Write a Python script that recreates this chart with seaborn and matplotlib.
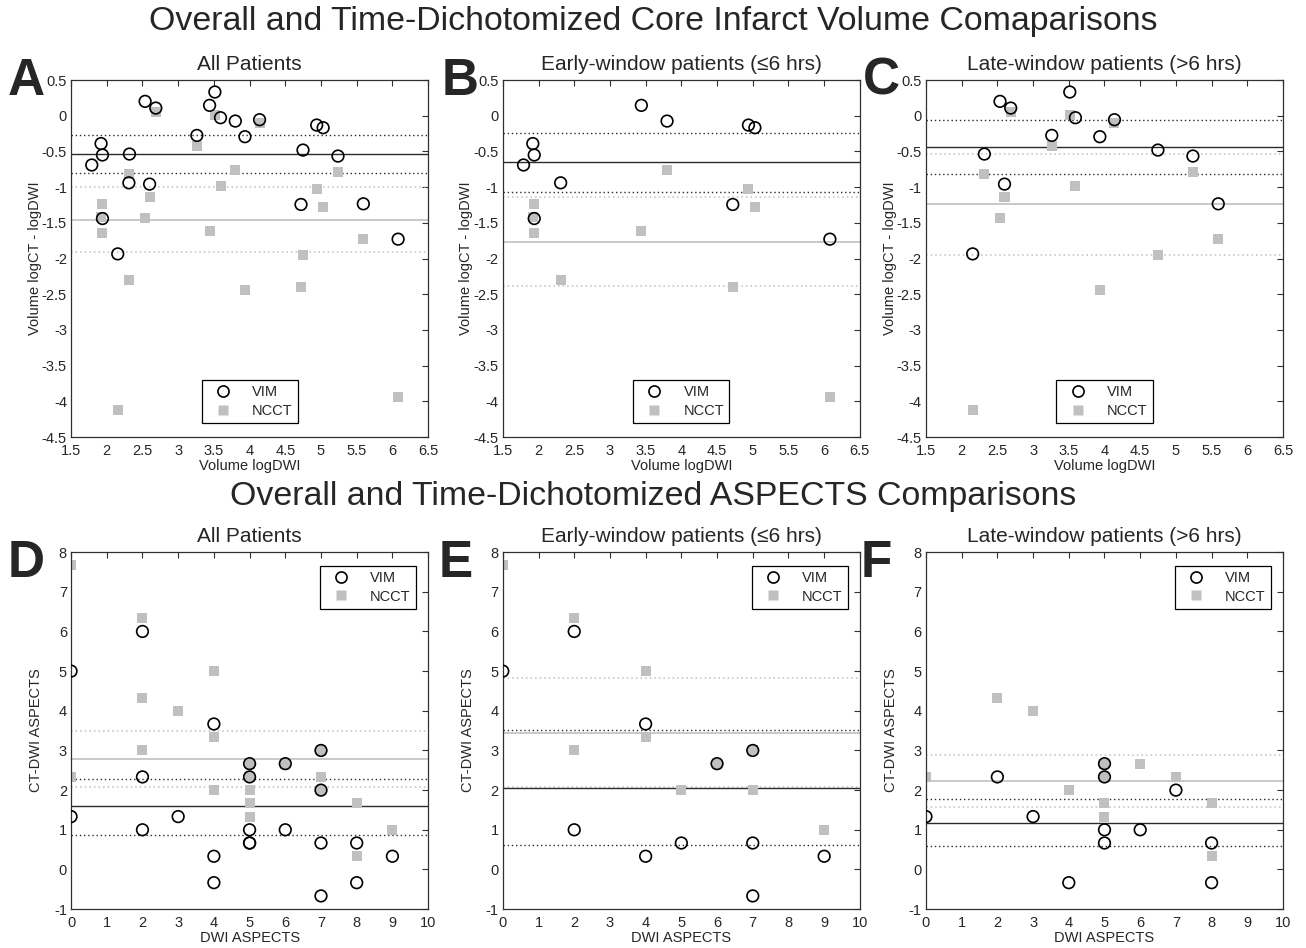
import matplotlib
matplotlib.use("Agg")
import matplotlib.pyplot as plt
from matplotlib.lines import Line2D
from matplotlib.ticker import FuncFormatter, MultipleLocator
import seaborn as sns

# ---- core infarct volume, early window (<=6 hrs)
early_vol_vim_x = [1.79, 1.92, 1.94, 1.94, 2.31, 3.44, 3.80, 4.72, 4.94, 5.03, 6.08]
early_vol_vim_y = [-0.69, -0.39, -0.55, -1.44, -0.94, 0.145, -0.075, -1.243, -0.131, -0.168, -1.729]
early_vol_ncct_x = [1.94, 1.92, 1.94, 2.31, 3.44, 3.80, 4.94, 5.03, 4.72, 6.08]
early_vol_ncct_y = [-1.243, -1.416, -1.645, -2.30, -1.621, -0.757, -1.028, -1.28, -2.40, -3.94]

# ---- core infarct volume, late window (>6 hrs)
late_vol_vim_x = [2.154, 2.318, 2.537, 2.60, 2.687, 3.262, 3.514, 3.593, 3.935, 4.140, 4.748, 5.238, 5.593]
late_vol_vim_y = [-1.935, -0.537, 0.201, -0.958, 0.107, -0.276, 0.332, -0.028, -0.294, -0.056, -0.481, -0.565, -1.234]
late_vol_ncct_x = [2.318, 2.60, 2.537, 2.687, 3.262, 3.514, 3.593, 4.140, 4.748, 5.238, 5.593, 3.935, 2.154]
late_vol_ncct_y = [-0.818, -1.140, -1.439, 0.051, -0.425, 0.014, -0.986, -0.098, -1.944, -0.794, -1.72, -2.44, -4.12]

# ---- ASPECTS, early window
early_asp_vim_x = [0, 2, 2, 4, 4, 5, 6, 7, 7, 7, 9]
early_asp_vim_y = [5, 6, 1, 3.667, 0.333, 0.667, 2.667, 3, 0.667, -0.667, 0.333]
early_asp_ncct_x = [0, 2, 2, 4, 4, 5, 6, 7, 7, 9]
early_asp_ncct_y = [7.667, 6.333, 3, 5, 3.333, 2, 2.667, 3, 2, 1]

# ---- ASPECTS, late window
late_asp_vim_x = [0, 2, 3, 4, 5, 5, 5, 5, 6, 7, 8, 8]
late_asp_vim_y = [1.333, 2.333, 1.333, -0.333, 2.667, 2.333, 1, 0.667, 1, 2, 0.667, -0.333]
late_asp_ncct_x = [0, 2, 3, 4, 5, 5, 5, 5, 6, 7, 8, 8]
late_asp_ncct_y = [2.333, 4.333, 4, 2, 2.667, 2.333, 1.667, 1.333, 2.667, 2.333, 1.667, 0.333]

# mean line and the two dotted limits: (vim mean, vim hi, vim lo, ncct mean, ncct hi, ncct lo)
stats_A = [-0.542, -0.276, -0.799, -1.458, -0.999, -1.915]
stats_B = [-0.654, -0.243, -1.07, -1.766, -1.14, -2.383]
stats_C = [-0.435, -0.061, -0.822, -1.238, -0.537, -1.944]
stats_D = [1.59, 2.27, 0.88, 2.79, 3.50, 2.076]
stats_E = [2.06, 3.51, 0.613, 3.45, 4.82, 2.075]
stats_F = [1.176, 1.765, 0.58, 2.227, 2.89, 1.57]

panel_titles = ["All Patients", "Early-window patients (\u22646 hrs)", "Late-window patients (>6 hrs)"]

sns.set_style("white")
plt.rcParams["font.family"] = ["Liberation Sans", "DejaVu Sans"]
plt.rcParams["axes.unicode_minus"] = False

GRAY = "#c0c0c0"
DARK = "#2b2b2b"
DOTS = (0, (1, 2))

fig = plt.figure(figsize=(13.06, 9.48), dpi=100)

lefts = [0.0544, 0.385, 0.709]
w, h = 0.2734, 0.3766
top_axes = [fig.add_axes([l, 0.539, w, h]) for l in lefts]
bot_axes = [fig.add_axes([l, 0.041, w, h]) for l in lefts]


def draw_panel(ax, vx, vy, nx, ny, stats):
    vm, vhi, vlo, nm, nhi, nlo = stats
    ax.axhline(nm, color=GRAY, lw=1.2, zorder=1)
    ax.axhline(nhi, color=GRAY, lw=1.1, ls=DOTS, zorder=1)
    ax.axhline(nlo, color=GRAY, lw=1.1, ls=DOTS, zorder=1)
    ax.axhline(vm, color=DARK, lw=1.0, zorder=1)
    ax.axhline(vhi, color=DARK, lw=1.0, ls=DOTS, zorder=1)
    ax.axhline(vlo, color=DARK, lw=1.0, ls=DOTS, zorder=1)
    sns.scatterplot(x=nx, y=ny, ax=ax, marker="s", s=52, color=GRAY,
                    edgecolor="none", linewidth=0, zorder=2)
    sns.scatterplot(x=vx, y=vy, ax=ax, marker="o", s=70, facecolor="none",
                    edgecolor="black", linewidth=1.2, zorder=3)


def style_axes(ax):
    for sp in ax.spines.values():
        sp.set_color("#303030")
        sp.set_linewidth(0.9)
    ax.tick_params(direction="in", top=True, right=True, length=4,
                   labelsize=10.5, color="#303030", pad=3)
    ax.tick_params(axis="x", pad=5)
    ax.yaxis.set_major_formatter(FuncFormatter(lambda v, _: f"{v:g}"))
    ax.xaxis.set_major_formatter(FuncFormatter(lambda v, _: f"{v:g}"))


handles = [
    Line2D([], [], ls="none", marker="o", ms=8, mfc="none", mec="black", mew=1.2),
    Line2D([], [], ls="none", marker="s", ms=7, mfc=GRAY, mec="none"),
]

top_data = [
    (early_vol_vim_x + late_vol_vim_x, early_vol_vim_y + late_vol_vim_y,
     early_vol_ncct_x + late_vol_ncct_x, early_vol_ncct_y + late_vol_ncct_y, stats_A),
    (early_vol_vim_x, early_vol_vim_y, early_vol_ncct_x, early_vol_ncct_y, stats_B),
    (late_vol_vim_x, late_vol_vim_y, late_vol_ncct_x, late_vol_ncct_y, stats_C),
]
bot_data = [
    (early_asp_vim_x + late_asp_vim_x, early_asp_vim_y + late_asp_vim_y,
     early_asp_ncct_x + late_asp_ncct_x, early_asp_ncct_y + late_asp_ncct_y, stats_D),
    (early_asp_vim_x, early_asp_vim_y, early_asp_ncct_x, early_asp_ncct_y, stats_E),
    (late_asp_vim_x, late_asp_vim_y, late_asp_ncct_x, late_asp_ncct_y, stats_F),
]

legend_kw = dict(fontsize=10.5, frameon=True, fancybox=False, framealpha=1,
                 edgecolor="black", handlelength=2.2, handletextpad=0.9,
                 labelspacing=0.3, borderpad=0.35, borderaxespad=0)

for i, ax in enumerate(top_axes):
    draw_panel(ax, *top_data[i])
    ax.set_xlim(1.5, 6.5)
    ax.set_ylim(-4.5, 0.5)
    ax.xaxis.set_major_locator(MultipleLocator(0.5))
    ax.yaxis.set_major_locator(MultipleLocator(0.5))
    style_axes(ax)
    ax.set_xlabel("Volume logDWI", fontsize=10.5, labelpad=1)
    ax.set_ylabel("Volume logCT - logDWI", fontsize=10.5, labelpad=0)
    ax.set_title(panel_titles[i], fontsize=15, pad=7)
    leg = ax.legend(handles, ["VIM", "NCCT"], loc="lower center",
                    bbox_to_anchor=(0.5, 0.04), **legend_kw)
    leg.get_frame().set_linewidth(0.9)

for i, ax in enumerate(bot_axes):
    draw_panel(ax, *bot_data[i])
    ax.set_xlim(0, 10)
    ax.set_ylim(-1, 8)
    ax.xaxis.set_major_locator(MultipleLocator(1))
    ax.yaxis.set_major_locator(MultipleLocator(1))
    style_axes(ax)
    ax.set_xlabel("DWI ASPECTS", fontsize=10.5, labelpad=1)
    ax.set_ylabel("CT-DWI ASPECTS", fontsize=10.5, labelpad=8)
    ax.set_title(panel_titles[i], fontsize=15, pad=7)
    leg = ax.legend(handles, ["VIM", "NCCT"], loc="upper right",
                    bbox_to_anchor=(0.966, 0.961), **legend_kw)
    leg.get_frame().set_linewidth(0.9)

fig.text(0.5, 0.977, "Overall and Time-Dichotomized Core Infarct Volume Comaparisons",
         ha="center", va="center", fontsize=24.4)
fig.text(0.5, 0.476, "Overall and Time-Dichotomized ASPECTS Comparisons",
         ha="center", va="center", fontsize=24.4)

for letter, x, y in [("A", 0.006, 0.90), ("B", 0.338, 0.90), ("C", 0.661, 0.90),
                     ("D", 0.006, 0.391), ("E", 0.336, 0.391), ("F", 0.659, 0.391)]:
    fig.text(x, y, letter, fontsize=37, fontweight="bold", ha="left", va="baseline")

fig.savefig("out.png", dpi=100)
